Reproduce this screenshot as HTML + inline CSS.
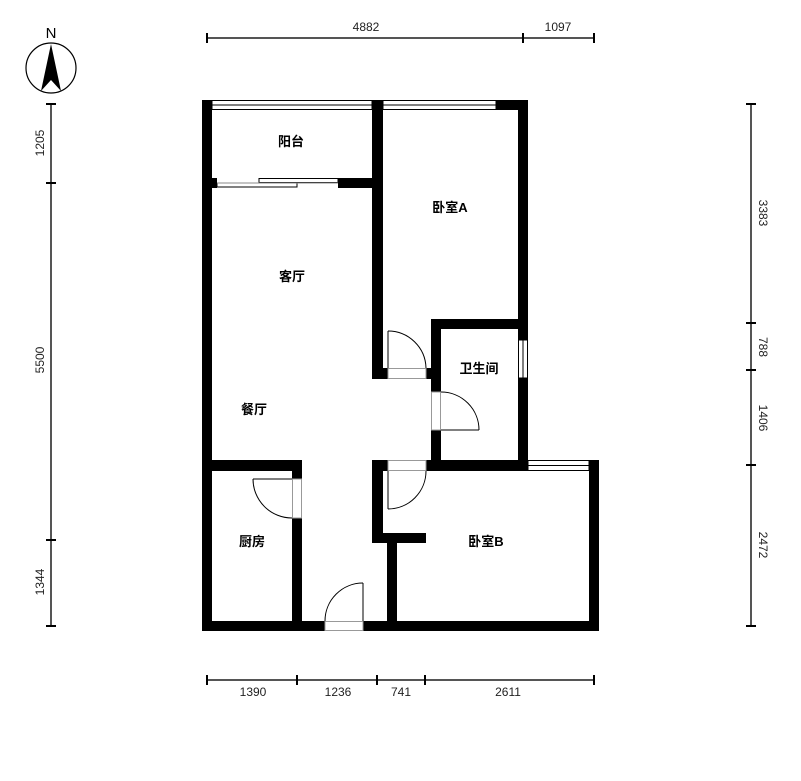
<!DOCTYPE html>
<html><head><meta charset="utf-8"><style>
html,body{margin:0;padding:0;background:#fff;}
svg{display:block;}
text{font-family:"Liberation Sans","Noto Sans CJK SC",sans-serif;}
</style></head><body>
<svg width="801" height="781" viewBox="0 0 801 781" xmlns="http://www.w3.org/2000/svg">
<rect width="801" height="781" fill="#fff"/>
<!-- compass -->
<text x="51" y="38" font-size="15" text-anchor="middle" fill="#000">N</text>
<ellipse cx="51" cy="68" rx="25" ry="25" fill="none" stroke="#000" stroke-width="1.2"/>
<polygon points="51,44 61,91 51,80 41,91" fill="#000"/>
<!-- dimension lines -->
<g stroke="#555" stroke-width="2" fill="none">
<line x1="207" y1="38" x2="594" y2="38"/>
<line x1="207" y1="680" x2="594" y2="680"/>
<line x1="51" y1="104" x2="51" y2="626"/>
<line x1="751" y1="104" x2="751" y2="626"/>
</g>
<g stroke="#000" stroke-width="2">
<line x1="207" y1="33" x2="207" y2="43"/><line x1="523" y1="33" x2="523" y2="43"/><line x1="594" y1="33" x2="594" y2="43"/>
<line x1="207" y1="675" x2="207" y2="685"/><line x1="297" y1="675" x2="297" y2="685"/><line x1="377" y1="675" x2="377" y2="685"/><line x1="425" y1="675" x2="425" y2="685"/><line x1="594" y1="675" x2="594" y2="685"/>
<line x1="46" y1="104" x2="56" y2="104"/><line x1="46" y1="183" x2="56" y2="183"/><line x1="46" y1="540" x2="56" y2="540"/><line x1="46" y1="626" x2="56" y2="626"/>
<line x1="746" y1="104" x2="756" y2="104"/><line x1="746" y1="323" x2="756" y2="323"/><line x1="746" y1="370" x2="756" y2="370"/><line x1="746" y1="465" x2="756" y2="465"/><line x1="746" y1="626" x2="756" y2="626"/>
</g>
<g font-size="12" fill="#222" text-anchor="middle">
<text x="366" y="31">4882</text><text x="558" y="31">1097</text>
<text x="253" y="696">1390</text><text x="338" y="696">1236</text><text x="401" y="696">741</text><text x="508" y="696">2611</text>
<text transform="translate(44,143) rotate(-90)">1205</text>
<text transform="translate(44,360) rotate(-90)">5500</text>
<text transform="translate(44,582) rotate(-90)">1344</text>
<text transform="translate(759,213) rotate(90)">3383</text>
<text transform="translate(759,347) rotate(90)">788</text>
<text transform="translate(759,418) rotate(90)">1406</text>
<text transform="translate(759,545) rotate(90)">2472</text>
</g>
<!-- walls -->
<g fill="#000">
<rect x="202" y="100" width="10" height="531"/>
<rect x="202" y="100" width="10" height="10"/>
<rect x="372" y="100" width="11" height="279"/>
<rect x="496" y="100" width="32" height="10"/>
<rect x="518" y="100" width="10" height="240"/>
<rect x="518" y="378" width="10" height="93"/>
<rect x="338" y="178" width="45" height="10"/>
<rect x="202" y="178" width="15" height="10"/>
<rect x="372" y="368" width="16" height="11"/>
<rect x="426" y="368" width="15" height="11"/>
<rect x="431" y="319" width="97" height="10"/>
<rect x="431" y="319" width="10" height="73"/>
<rect x="431" y="430" width="10" height="41"/>
<rect x="372" y="460" width="16" height="11"/>
<rect x="426" y="460" width="102" height="11"/>
<rect x="589" y="460" width="10" height="171"/>
<rect x="372" y="460" width="11" height="83"/>
<rect x="372" y="533" width="54" height="10"/>
<rect x="387" y="533" width="10" height="98"/>
<rect x="202" y="621" width="123" height="10"/>
<rect x="363" y="621" width="236" height="10"/>
<rect x="202" y="460" width="100" height="11"/>
<rect x="292" y="460" width="10" height="19"/>
<rect x="292" y="518" width="10" height="113"/>
</g>
<!-- windows -->
<g fill="#fff" stroke="#000" stroke-width="1">
<rect x="212" y="100.5" width="160" height="9"/>
<rect x="383" y="100.5" width="113" height="9"/>
<rect x="518.5" y="340" width="9" height="38"/>
<rect x="528" y="460.5" width="61" height="10"/>
</g>
<g stroke="#000" stroke-width="1">
<line x1="212" y1="105" x2="372" y2="105"/>
<line x1="383" y1="105" x2="496" y2="105"/>
<line x1="523" y1="340" x2="523" y2="378"/>
<line x1="528" y1="465.5" x2="589" y2="465.5"/>
</g>
<!-- sliding door -->
<rect x="259" y="178.5" width="79" height="4" fill="#fff" stroke="#000" stroke-width="1"/>
<rect x="217" y="183" width="80" height="4" fill="#fff" stroke="#000" stroke-width="1"/>
<line x1="217" y1="183" x2="338" y2="183" stroke="#888" stroke-width="1"/>
<!-- door openings thin lines -->
<g stroke="#999" stroke-width="1" fill="none">
<rect x="388" y="368.5" width="38" height="10"/>
<rect x="431.5" y="392" width="9" height="38"/>
<rect x="388" y="460.5" width="38" height="10"/>
<rect x="292.5" y="479" width="9" height="39"/>
<rect x="325" y="621.5" width="38" height="9"/>
</g>
<!-- door leaves and arcs -->
<g stroke="#000" stroke-width="1" fill="none">
<line x1="388" y1="331" x2="388" y2="368"/><path d="M388,331 A38,38 0 0 1 426,368"/>
<line x1="441" y1="430" x2="479" y2="430"/><path d="M441,392 A38,38 0 0 1 479,430"/>
<line x1="388" y1="471" x2="388" y2="509"/><path d="M426,471 A38,38 0 0 1 388,509"/>
<line x1="253" y1="479" x2="292" y2="479"/><path d="M253,479 A39,39 0 0 0 292,518"/>
<line x1="363" y1="583" x2="363" y2="621"/><path d="M363,583 A38,38 0 0 0 325,621"/>
</g>
<!-- room labels -->
<g font-size="13" font-weight="bold" fill="#000" text-anchor="middle">
<text x="291" y="146">阳台</text>
<text x="450" y="212">卧室A</text>
<text x="292" y="281">客厅</text>
<text x="479" y="373">卫生间</text>
<text x="254" y="414">餐厅</text>
<text x="252" y="546">厨房</text>
<text x="486" y="546">卧室B</text>
</g>
</svg>
</body></html>
